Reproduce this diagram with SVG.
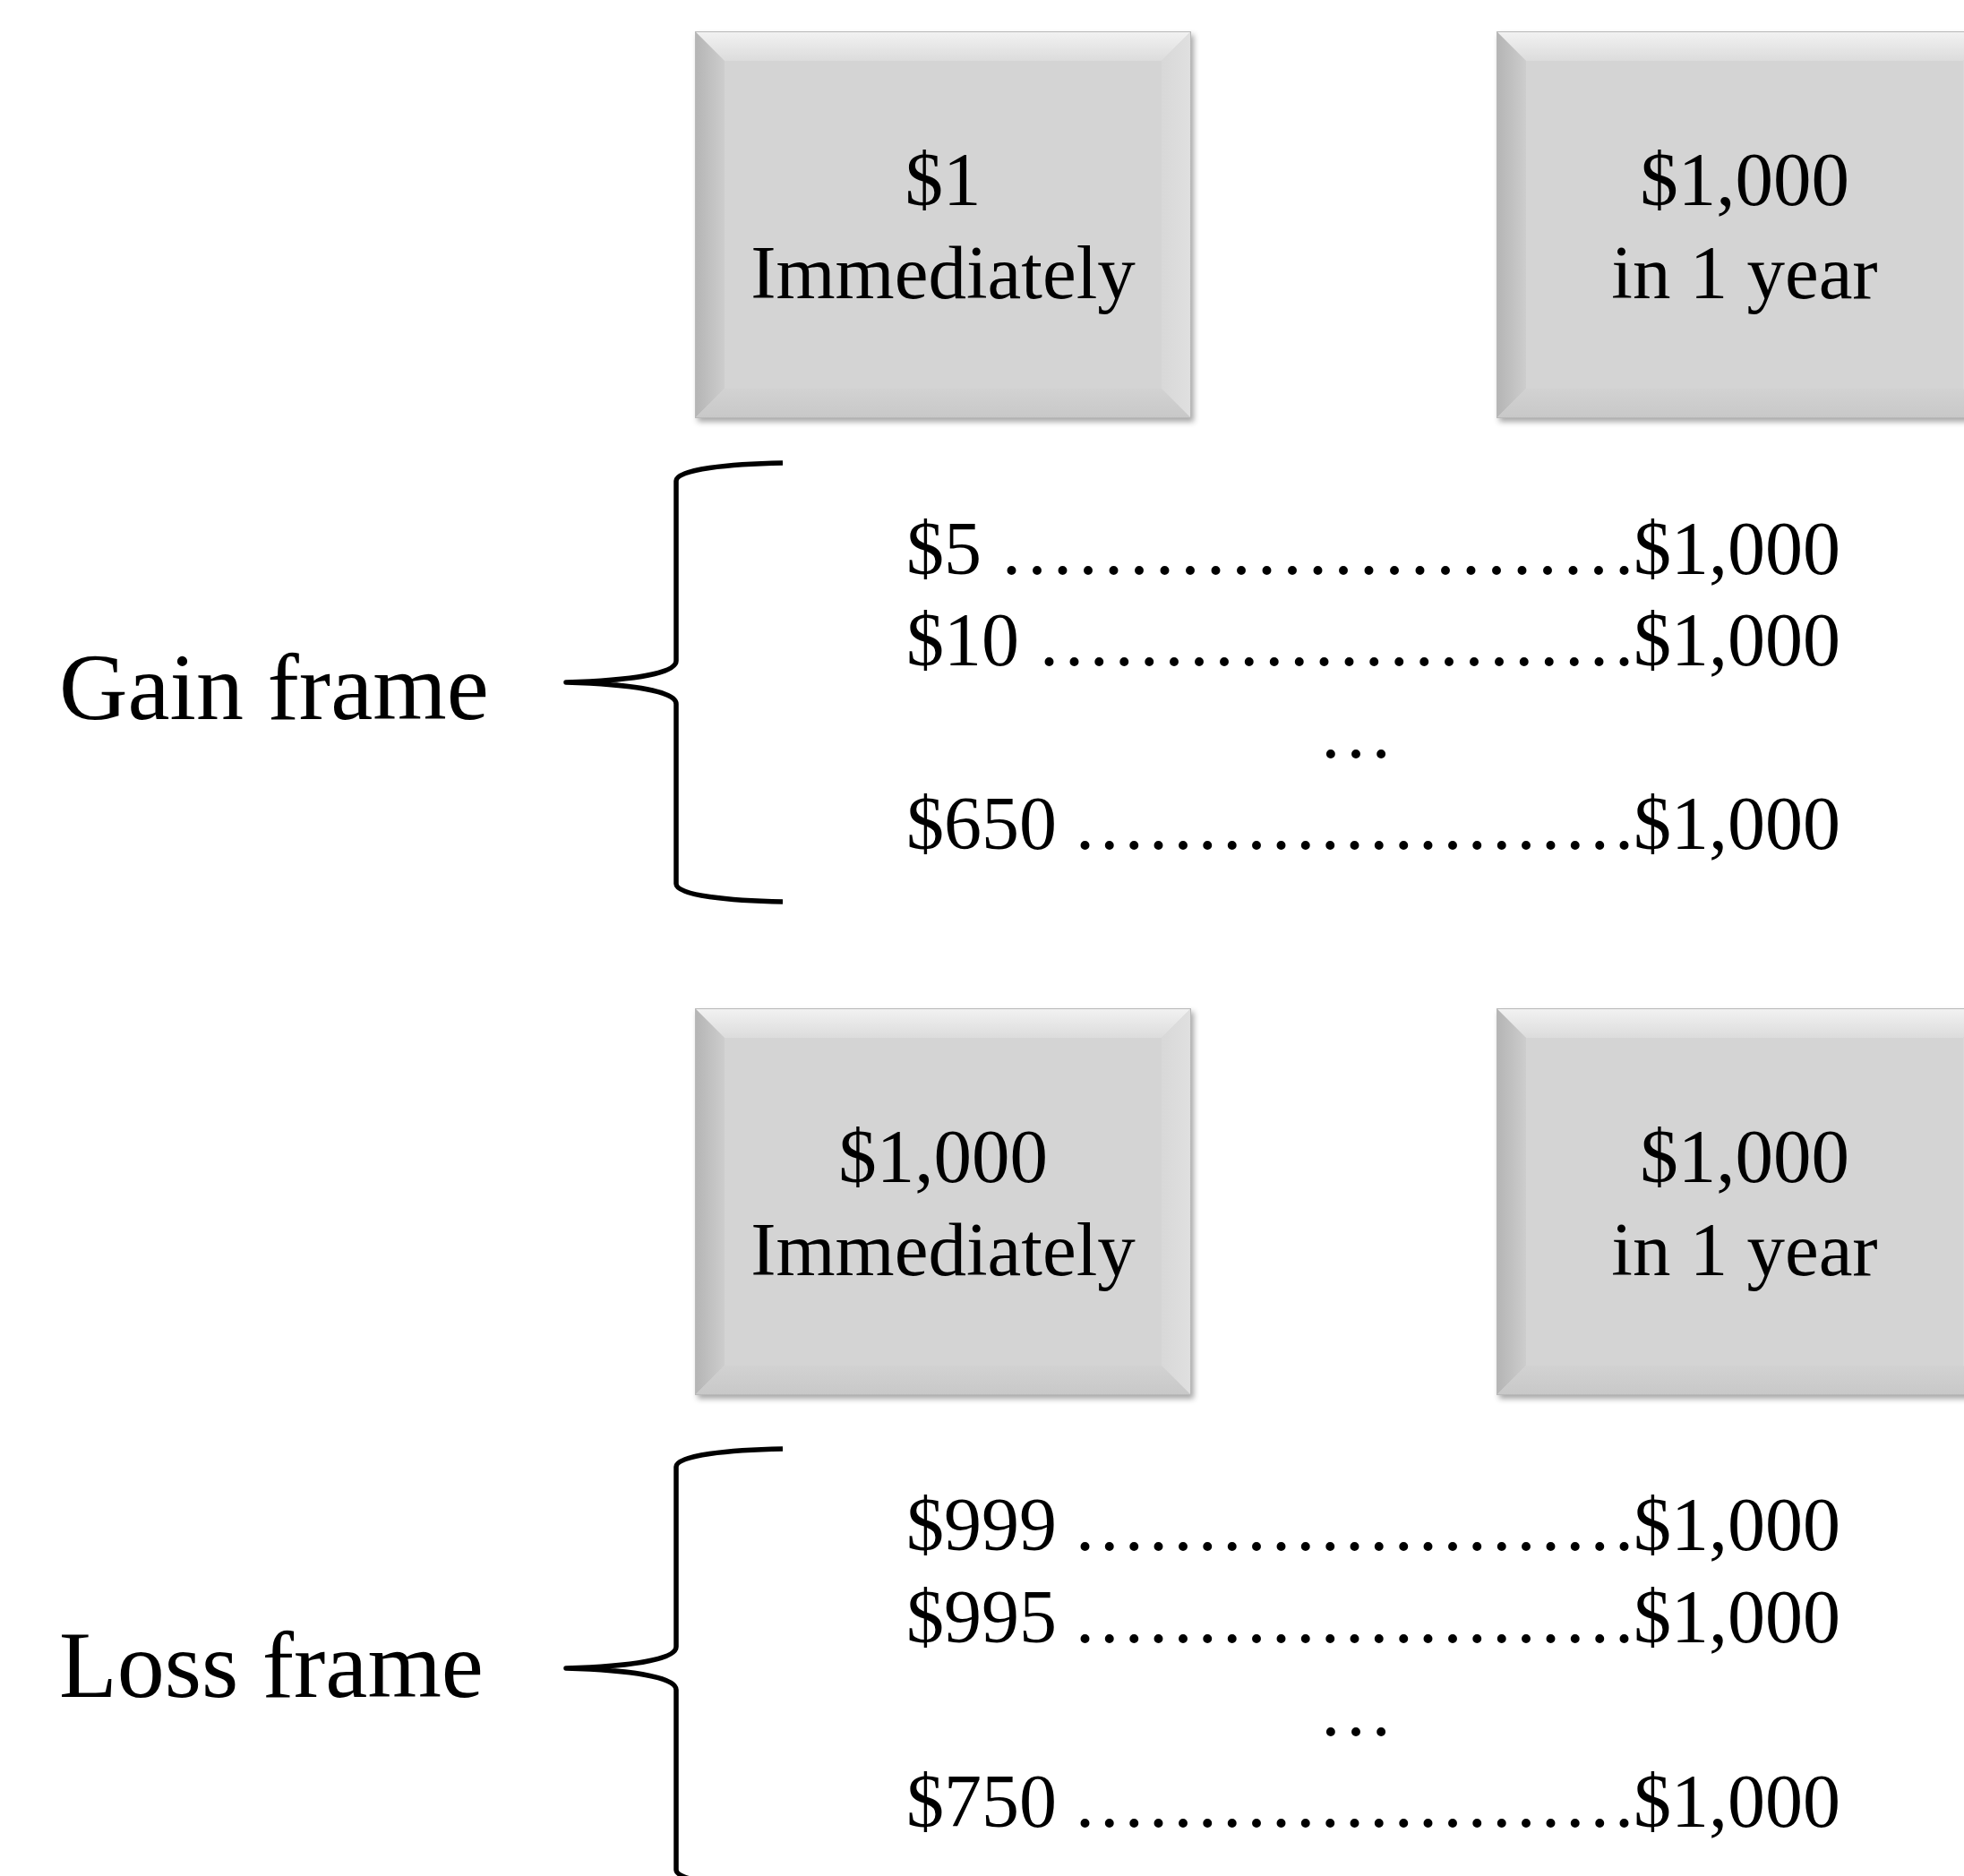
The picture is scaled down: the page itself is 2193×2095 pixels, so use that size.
<svg xmlns="http://www.w3.org/2000/svg" xmlns:xlink="http://www.w3.org/1999/xlink" width="2193" height="2095" viewBox="0 0 2193 2095">
<style>
text { font-family: "Liberation Serif", "Times New Roman", serif; fill: #000; }
.box { font-size: 85px; text-anchor: middle; }
.list { font-size: 84px; }
.frame { font-size: 106px; }
.brace { fill: none; stroke: #000; stroke-width: 5.5; stroke-linecap: butt; stroke-linejoin: round; }
</style>
<defs>
  <linearGradient id="gTop" x1="0" y1="0" x2="0" y2="1">
    <stop offset="0" stop-color="#f2f2f2"/>
    <stop offset="1" stop-color="#dcdcdc"/>
  </linearGradient>
  <linearGradient id="gLeft" x1="0" y1="0" x2="1" y2="0">
    <stop offset="0" stop-color="#b4b4b4"/>
    <stop offset="1" stop-color="#cdcdcd"/>
  </linearGradient>
  <linearGradient id="gRight" x1="0" y1="0" x2="1" y2="0">
    <stop offset="0" stop-color="#d8d8d8"/>
    <stop offset="1" stop-color="#e0e0e0"/>
  </linearGradient>
  <linearGradient id="gBot" x1="0" y1="0" x2="0" y2="1">
    <stop offset="0" stop-color="#d2d2d2"/>
    <stop offset="1" stop-color="#c8c8c8"/>
  </linearGradient>
  <filter id="shadow" x="-5%" y="-5%" width="115%" height="115%">
    <feDropShadow dx="3" dy="4" stdDeviation="3" flood-color="#000" flood-opacity="0.35"/>
  </filter>
  <g id="bevel">
    <g filter="url(#shadow)">
      <rect x="0" y="0" width="554" height="432" fill="#d4d4d4"/>
    </g>
    <polygon points="0,0 554,0 521,33 33,33" fill="url(#gTop)"/>
    <polygon points="0,0 33,33 33,399 0,432" fill="url(#gLeft)"/>
    <polygon points="554,0 554,432 521,399 521,33" fill="url(#gRight)"/>
    <polygon points="0,432 33,399 521,399 554,432" fill="url(#gBot)"/>
    <rect x="33" y="33" width="488" height="366" fill="#d4d4d4"/>
    <rect x="0.5" y="0.5" width="553" height="431" fill="none" stroke="#b8b8b8" stroke-width="1"/>
  </g>
</defs>
<rect x="0" y="0" width="2193" height="2095" fill="#ffffff"/>

<g id="box-gain-now">
  <use xlink:href="#bevel" x="776" y="35"/>
  <text class="box" x="1053" y="229">$1</text>
  <text class="box" x="1053" y="333">Immediately</text>
</g>
<g id="box-gain-later">
  <use xlink:href="#bevel" x="1671" y="35"/>
  <text class="box" x="1948" y="229">$1,000</text>
  <text class="box" x="1948" y="333">in 1 year</text>
</g>
<g id="box-loss-now">
  <use xlink:href="#bevel" x="776" y="1126"/>
  <text class="box" x="1053" y="1320">$1,000</text>
  <text class="box" x="1053" y="1424">Immediately</text>
</g>
<g id="box-loss-later">
  <use xlink:href="#bevel" x="1671" y="1126"/>
  <text class="box" x="1948" y="1320">$1,000</text>
  <text class="box" x="1948" y="1424">in 1 year</text>
</g>

<g id="label-gain">
  <text class="frame" x="66" y="803">Gain frame</text>
</g>
<g id="label-loss">
  <text class="frame" x="66" y="1895">Loss frame</text>
</g>

<g id="list-gain">
  <text class="list" y="641"><tspan x="1012">$5 </tspan><tspan x="1119" textLength="705" lengthAdjust="spacing">.........................</tspan><tspan x="1824">$1,000</tspan></text>
  <text class="list" y="743"><tspan x="1012">$10 </tspan><tspan x="1161" textLength="663" lengthAdjust="spacing">........................</tspan><tspan x="1824">$1,000</tspan></text>
  <text class="list" x="1514" y="846" text-anchor="middle">…</text>
  <text class="list" y="948"><tspan x="1012">$650 </tspan><tspan x="1201" textLength="623" lengthAdjust="spacing">.......................</tspan><tspan x="1824">$1,000</tspan></text>
</g>

<g id="list-loss">
  <text class="list" y="1731"><tspan x="1012">$999 </tspan><tspan x="1201" textLength="623" lengthAdjust="spacing">.......................</tspan><tspan x="1824">$1,000</tspan></text>
  <text class="list" y="1834"><tspan x="1012">$995 </tspan><tspan x="1201" textLength="623" lengthAdjust="spacing">.......................</tspan><tspan x="1824">$1,000</tspan></text>
  <text class="list" x="1514" y="1938" text-anchor="middle">…</text>
  <text class="list" y="2040"><tspan x="1012">$750 </tspan><tspan x="1201" textLength="623" lengthAdjust="spacing">.......................</tspan><tspan x="1824">$1,000</tspan></text>
</g>

<g id="connectors">
  <path class="brace" d="M874,517 C815,518 755,524 755,537 L755,738 C755,752 705,760 632,762 C705,764 755,772 755,786 L755,987 C755,1000 815,1006 874,1007"/>
  <path class="brace" d="M874,1618 C815,1619 755,1625 755,1638 L755,1839 C755,1853 705,1861 632,1863 C705,1865 755,1873 755,1887 L755,2088 C755,2101 815,2107 874,2108"/>
</g>
</svg>
